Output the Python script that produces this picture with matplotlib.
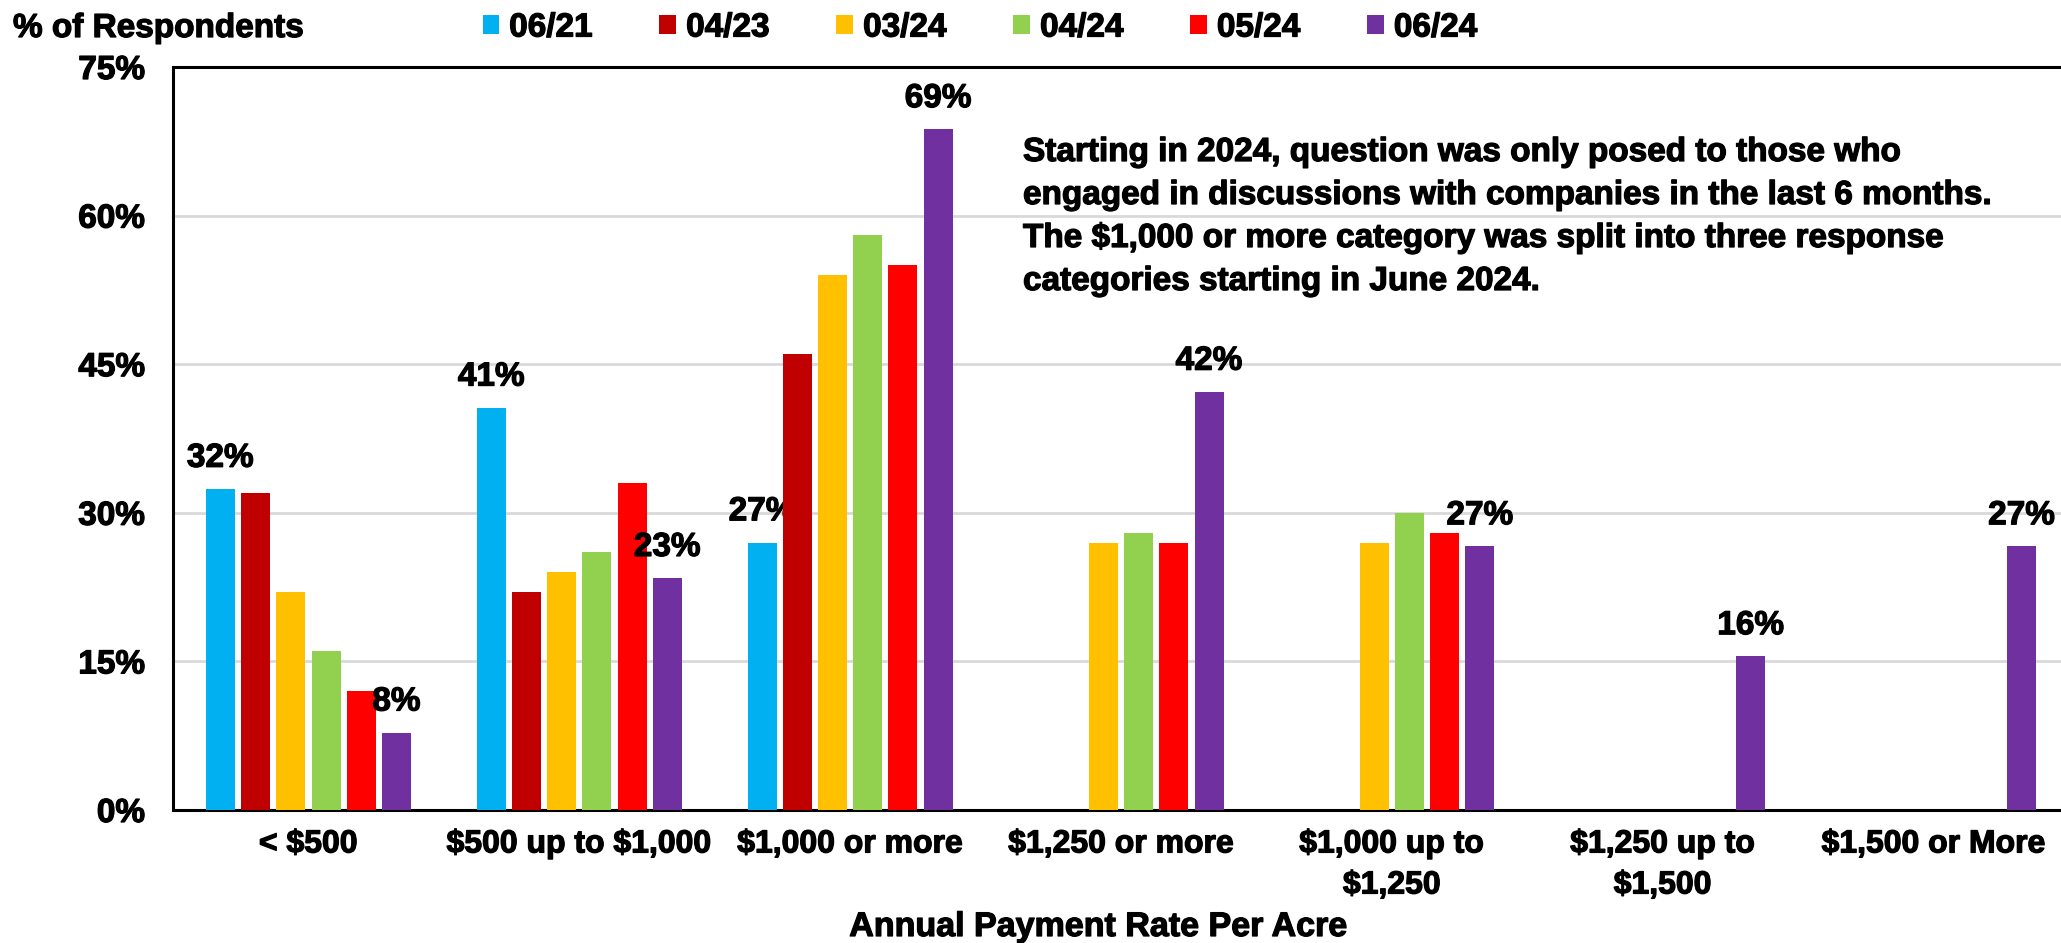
import numpy as np
import matplotlib
matplotlib.use("Agg")
import matplotlib.pyplot as plt
import matplotlib.patheffects as pe
from matplotlib.text import Text

plt.rcParams['font.family'] = ['Liberation Sans', 'DejaVu Sans']
plt.rcParams['font.weight'] = 'bold'
plt.rcParams['text.parse_math'] = False

categories = ['< $500', '$500 up to $1,000', '$1,000 or more', '$1,250 or more',
              '$1,000 up to\n$1,250', '$1,250 up to\n$1,500', '$1,500 or More']
series_names = ['06/21', '04/23', '03/24', '04/24', '05/24', '06/24']
nan = np.nan
v_0621 = [32.4, 40.6, 27.0, nan, nan, nan, nan]
v_0423 = [32.0, 22.0, 46.0, nan, nan, nan, nan]
v_0324 = [22.0, 24.0, 54.0, 27.0, 27.0, nan, nan]
v_0424 = [16.0, 26.0, 58.0, 28.0, 30.0, nan, nan]
v_0524 = [12.0, 33.0, 55.0, 27.0, 28.0, nan, nan]
v_0624 = [7.8, 23.4, 68.7, 42.2, 26.6, 15.5, 26.6]
labeled = ['06/21', '06/24']
colors = ['#00B0F0', '#C00000', '#FFC000', '#92D050', '#FF0000', '#7030A0']
yticks = [0, 15, 30, 45, 60, 75]

series = [v_0621, v_0423, v_0324, v_0424, v_0524, v_0624]

W, H = 2061, 943
fig = plt.figure(figsize=(W / 100, H / 100), dpi=100)
left, right, top, bottom = 173, 2069, 67, 810
ax = fig.add_axes([left / W, 1 - bottom / H, (right - left) / W, (bottom - top) / H])

x = np.arange(len(categories))
pitch = 0.13
bw = 0.107
handles = []
for i, (name, vals, c) in enumerate(zip(series_names, series, colors)):
    pos = x + (i - 2.5) * pitch
    bars = ax.bar(pos, vals, width=bw, color=c, label=name, zorder=3)
    handles.append(bars)
    if name in labeled:
        for p, v in zip(pos, vals):
            if not np.isnan(v):
                ax.annotate(f"{v:.0f}%", (p, v), xytext=(0, 16), textcoords='offset points',
                            ha='center', va='baseline', fontsize=24, fontweight='bold')

ax.set_xlim(-0.5, len(categories) - 0.5)
ax.set_ylim(0, 75)
ax.set_yticks(yticks)
ax.set_yticklabels([f"{t}%" for t in yticks], fontsize=24, fontweight='bold')
ax.set_xticks(x)
ax.set_xticklabels(categories, fontsize=23, fontweight='bold', linespacing=1.48)
ax.tick_params(axis='both', length=0)
ax.tick_params(axis='y', pad=20)
ax.tick_params(axis='x', pad=14)
ax.grid(axis='y', color='#D9D9D9', linewidth=2, zorder=0)
ax.set_axisbelow(True)
for s in ['left', 'bottom', 'top']:
    ax.spines[s].set_linewidth(2.2)
    ax.spines[s].set_color('black')
ax.spines['right'].set_visible(False)

fig.text(1023 / W, 1 - 290 / H,
         "Starting in 2024, question was only posed to those who\n"
         "engaged in discussions with companies in the last 6 months.\n"
         "The $1,000 or more category was split into three response\n"
         "categories starting in June 2024.",
         ha='left', va='baseline', fontsize=24,
         fontweight='bold', linespacing=1.50)

fig.text(13 / W, 1 - 37 / H, "% of Respondents", ha='left', va='baseline',
         fontsize=24, fontweight='bold')
fig.text(1098 / W, 1 - 936 / H, "Annual Payment Rate Per Acre", ha='center',
         va='baseline', fontsize=24.5, fontweight='bold')

fig.legend(handles=handles, labels=series_names, loc='center',
           bbox_to_anchor=(980 / W, 1 - 28 / H), ncol=6, frameon=False,
           fontsize=24, handlelength=0.5, handleheight=0.5, handletextpad=0.3,
           columnspacing=2.0, borderpad=0.1)

for t in fig.findobj(Text):
    t.set_path_effects([pe.withStroke(linewidth=0.9, foreground='black')])

fig.savefig('out.png', dpi=100)
